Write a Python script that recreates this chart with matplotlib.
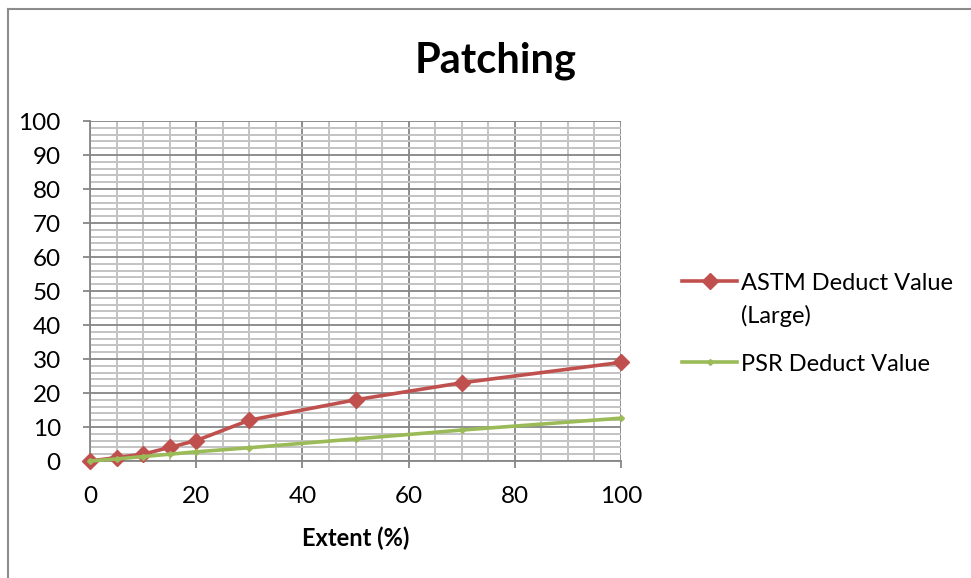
import matplotlib
matplotlib.use("Agg")
import matplotlib.pyplot as plt
from matplotlib.lines import Line2D
from matplotlib.ticker import MultipleLocator

plt.rcParams['font.family'] = ['Lato', 'DejaVu Sans']

extent = [0, 5, 10, 15, 20, 30, 50, 70, 100]
astm_large = [0, 1, 2, 4, 6, 12, 18, 23, 29]
psr = [0, 0.6, 1.3, 2.0, 2.7, 3.9, 6.5, 9.1, 12.6]
series_labels = ["ASTM Deduct Value\n(Large)", "PSR Deduct Value"]

W, H = 971, 578
fig = plt.figure(figsize=(W / 100, H / 100), dpi=100)
fig.patch.set_facecolor("white")


def fx(px):
    return px / W


def fy(py):
    return 1 - py / H


# chart frame (top and left edges)
border = "#8c8c8c"
fig.add_artist(Line2D([fx(7.5), 1.0], [fy(8.5), fy(8.5)], color=border, lw=1.5))
fig.add_artist(Line2D([fx(7.5), fx(7.5)], [0.0, fy(8.5)], color=border, lw=1.5))

x0, x1 = 90, 621
y0, y1 = 461, 121
ax = fig.add_axes([fx(x0), fy(y0), (x1 - x0) / W, (y0 - y1) / H])
ax.set_xlim(0, 100)
ax.set_ylim(0, 100)

ax.xaxis.set_major_locator(MultipleLocator(20))
ax.xaxis.set_minor_locator(MultipleLocator(5))
ax.yaxis.set_major_locator(MultipleLocator(10))
ax.yaxis.set_minor_locator(MultipleLocator(2))

ax.grid(which="minor", color="#c3c3c3", lw=1.4)
ax.grid(which="major", color="#868686", lw=1.3)
ax.set_axisbelow(True)

for s in ["top", "right"]:
    ax.spines[s].set_visible(False)
for s in ["left", "bottom"]:
    ax.spines[s].set_color("#868686")
    ax.spines[s].set_linewidth(1.3)

ax.tick_params(which="major", length=5, width=1.3, color="#868686",
               labelsize=17.5)
ax.tick_params(axis="x", pad=13)
ax.tick_params(axis="y", pad=16)
ax.tick_params(which="minor", length=0)

red = "#c0504d"
green = "#9bbb59"
styles = [dict(color=red, lw=2.6, marker="D", ms=8),
          dict(color=green, lw=2.6, marker="D", ms=3)]
ax.plot(extent, astm_large, zorder=3, clip_on=False, **styles[0])
ax.plot(extent, psr, zorder=3, clip_on=False, **styles[1])

ax.set_xlabel("Extent (%)", fontsize=17, fontweight="bold", labelpad=14)

fig.text(fx(496), fy(61), "Patching", fontsize=30, fontweight="bold",
         ha="center", va="center")

# legend: handle aligned with the first line of each entry
legend_rows = [281, 362]
for row, label, st in zip(legend_rows, series_labels, styles):
    fig.add_artist(Line2D([fx(682), fx(737)], [fy(row), fy(row)],
                          color=st["color"], lw=st["lw"]))
    fig.add_artist(Line2D([fx(709.5)], [fy(row)], color=st["color"],
                          marker=st["marker"], ms=st["ms"], lw=0))
    fig.text(fx(741), fy(row - 8), label, fontsize=17, ha="left",
             va="top", linespacing=1.6)

fig.savefig("out.png", dpi=100)
